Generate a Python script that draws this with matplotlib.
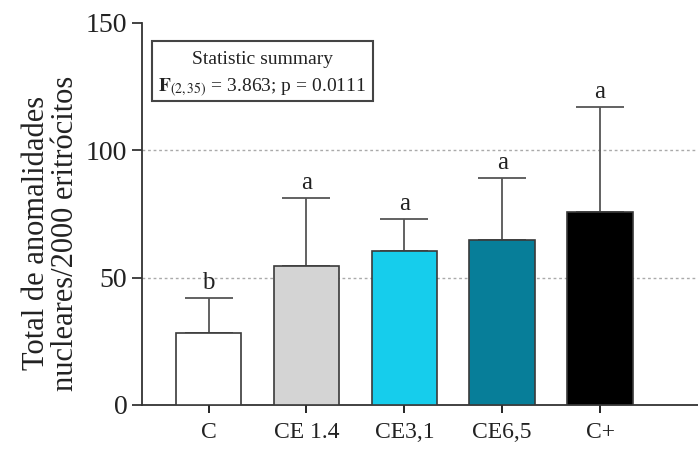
import matplotlib
matplotlib.use("Agg")
import matplotlib.pyplot as plt
from matplotlib.patches import Rectangle

plt.rcParams['font.family'] = ['Liberation Serif', 'DejaVu Serif']
plt.rcParams['mathtext.fontset'] = 'stix'

groups = ['C', 'CE 1.4', 'CE3,1', 'CE6,5', 'C+']
means = [28.3, 54.6, 60.5, 64.8, 75.8]
sd_up = [13.7, 26.7, 12.5, 24.2, 41.2]
letters = ['b', 'a', 'a', 'a', 'a']
colors = ['#ffffff', '#d4d4d4', '#16cdec', '#077e99', '#000000']

fig = plt.figure(figsize=(6.98, 4.5), dpi=100)
ax = fig.add_axes([0.2034, 0.1, 0.7966, 0.849])

x = list(range(len(groups)))
ax.bar(x, means, width=0.67, color=colors, edgecolor='#3a3a3a', linewidth=1.2, zorder=3)
ax.errorbar(x, means, yerr=[[0] * len(means), sd_up], fmt='none', ecolor='#555555',
            elinewidth=1.3, capsize=17, capthick=1.3, zorder=2)

for xi, m, s, l in zip(x, means, sd_up, letters):
    ax.text(xi, m + s + 1.5, l, ha='center', va='bottom', fontsize=18, color='#222222')

ax.set_xlim(-0.68, 5.0)
ax.set_ylim(0, 150)
ax.set_yticks([0, 50, 100, 150])
ax.set_xticks(x)
ax.set_xticklabels(groups, fontsize=17, color='#222222')
ax.tick_params(axis='y', labelsize=20, colors='#222222', length=7, width=1.2, direction='out')
ax.tick_params(axis='x', length=6, width=1.2, direction='out', pad=6)

for y in [50, 100]:
    ax.axhline(y, color='#aaaaaa', linestyle=(0, (2, 2)), linewidth=1, zorder=1)

ax.spines['top'].set_visible(False)
ax.spines['right'].set_visible(False)
ax.spines['left'].set_linewidth(1.3)
ax.spines['bottom'].set_linewidth(1.3)
ax.spines['left'].set_color('#333333')
ax.spines['bottom'].set_color('#333333')

ax.set_ylabel('Total de anomalidades\nnucleares/2000 eritrócitos', fontsize=22,
              color='#222222', linespacing=1.0)
ax.yaxis.set_label_coords(-0.112, 0.45)

# statistic summary box
ax.add_patch(Rectangle((0.018, 0.795), 0.397, 0.157, transform=ax.transAxes,
                       fill=False, edgecolor='#444444', linewidth=1.5, zorder=5))
ax.text(0.2165, 0.905, 'Statistic summary', transform=ax.transAxes, ha='center',
        va='center', fontsize=14, color='#222222')
ax.text(0.2165, 0.83, r'$\mathbf{F}_{(2,35)}$ = 3.863; p = 0.0111', transform=ax.transAxes,
        ha='center', va='center', fontsize=14, color='#222222')

fig.savefig('out.png', dpi=100)
